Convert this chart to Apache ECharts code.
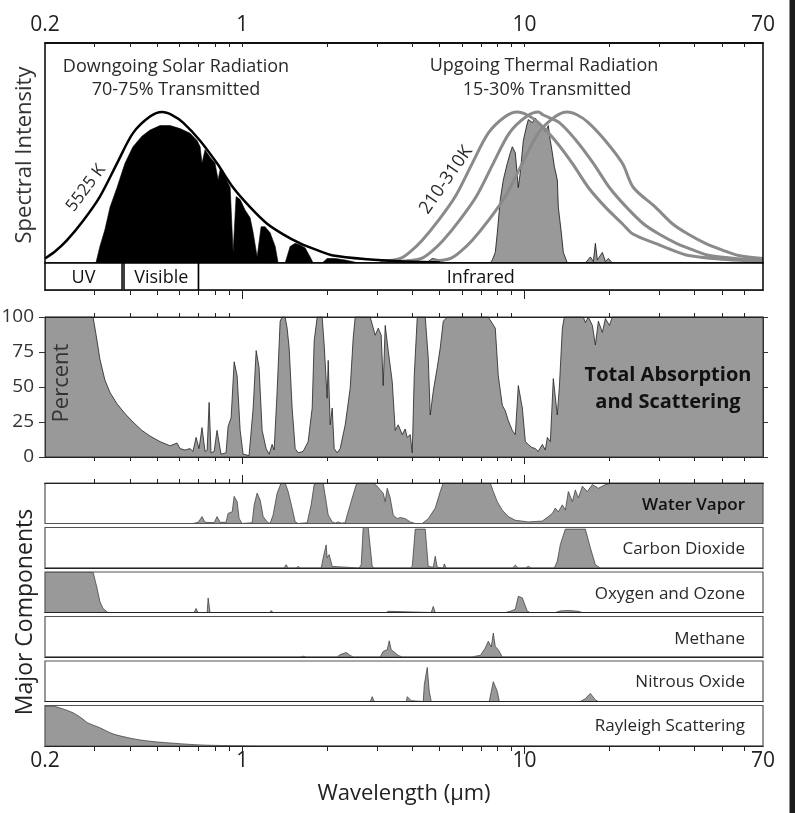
<!DOCTYPE html>
<html><head><meta charset="utf-8">
<script src="https://cdn.jsdelivr.net/npm/echarts@6/dist/echarts.min.js"></script>
<style>html,body{margin:0;padding:0;background:#fff}#c{width:795px;height:813px}</style>
</head><body><div id="c"></div>
<script>
// ---------- tick / label values (wavelength, µm) ----------
const minorTicks = [0.3,0.4,0.5,0.6,0.7,0.8,0.9,2,3,4,5,6,7,8,9,20,30,40,50,60];
const majorTicks = [1,10];
const tickLabels = [0.2,1,10,70];
const xMinWl = 0.2, xMaxWl = 70;

// ---------- spectral bands ----------
const bandFrom = [0.2, 0.381, 0.70];
const bandTo   = [0.375, 0.70, 70];
const bandName = ['UV','Visible','Infrared'];

// ---------- top panel: solar ----------
const sunWl  = [0.200,0.218,0.239,0.273,0.313,0.360,0.410,0.471,0.520,0.564,0.617,0.709,0.814,0.928,1.066,1.225,1.396,1.604,1.843,2.100,2.771,3.628,5.03];
const sunVal = [0.03,0.08,0.15,0.28,0.44,0.66,0.86,0.97,1.0,0.98,0.93,0.81,0.66,0.50,0.37,0.26,0.19,0.13,0.085,0.05,0.025,0.012,0.004];
const solarWl  = [0.303,0.313,0.326,0.340,0.360,0.384,0.410,0.441,0.471,0.511,0.555,0.602,0.653,0.692,0.709,0.720,0.738,0.769,0.801,0.821,0.835,0.869,0.906,0.928,0.951,0.983,1.024,1.066,1.093,1.129,1.166,1.205,1.255,1.308,1.340,1.419,1.478,1.540,1.604,1.671,1.740,1.783,1.919,1.999,2.134,2.316,2.452,2.575];
const solarVal = [0,0.11,0.22,0.37,0.50,0.66,0.77,0.84,0.88,0.91,0.91,0.89,0.86,0.81,0.77,0.66,0.75,0.70,0.66,0.55,0.62,0.57,0.50,0.07,0.44,0.42,0.35,0.30,0.20,0.04,0.24,0.24,0.20,0.11,0,0,0.11,0.13,0.12,0.10,0.04,0,0,0.03,0.03,0.02,0.01,0];

// ---------- top panel: thermal ----------
const thermWl  = [4.486,4.712,5.029,5.196,7.565,7.690,7.880,8.010,8.208,8.412,8.691,8.907,9.054,9.278,9.508,9.664,9.904,10.150,10.317,10.659,10.923,11.194,11.566,11.852,12.146,12.346,12.550,12.756,13.073,13.180,13.507,13.729,14.185,16.43,17.115,17.54,17.83,18.12,18.88,19.35,19.83,20.48];
const thermVal = [0,0.03,0.02,0,0,0.02,0.07,0.20,0.42,0.55,0.66,0.73,0.77,0.73,0.50,0.60,0.81,0.90,0.95,0.93,0.96,0.93,0.90,0.87,0.91,0.81,0.73,0.64,0.55,0.37,0.20,0.07,0,0,0.04,0.01,0.13,0.02,0.07,0.01,0.03,0];
const t310Wl  = [3.082,3.628,3.969,4.342,4.948,5.685,6.531,7.442,8.550,9.431,10.233,11.194,12.861,14.776,16.837,19.345,22.226,24.313,29.10,33.43,38.09,50.29,65.83,70];
const t310Val = [0.01,0.03,0.08,0.15,0.28,0.44,0.66,0.86,0.97,1.0,0.98,0.93,0.81,0.66,0.50,0.37,0.26,0.19,0.13,0.085,0.05,0.025,0.012,0.01];
const t260Wl  = [3.63,4.307,4.712,5.154,5.873,6.748,7.752,8.834,10.150,11.194,11.660,13.288,15.266,17.539,19.987,22.963,26.381,30.062,34.539,39.681,45.219,59.688,70];
const t260Val = [0.01,0.03,0.08,0.15,0.28,0.44,0.66,0.86,0.97,1.0,0.98,0.93,0.81,0.66,0.50,0.37,0.26,0.19,0.13,0.085,0.05,0.025,0.017];
const t210Wl  = [4.635,5.457,5.970,6.531,7.442,8.550,9.824,11.194,12.861,14.185,15.392,16.837,19.345,22.226,24.313,29.10,33.43,38.09,43.77,50.29,57.30,70];
const t210Val = [0.01,0.03,0.08,0.15,0.28,0.44,0.66,0.86,0.97,1.0,0.98,0.93,0.81,0.66,0.50,0.37,0.26,0.19,0.13,0.085,0.05,0.03];

// ---------- total absorption (%) ----------
const absWl = [0.2,0.296,0.303,0.313,0.326,0.340,0.360,0.384,0.410,0.441,
0.471,0.511,0.555,0.587,0.602,0.627,0.653,0.669,0.686,0.703,
0.720,0.738,0.751,0.763,0.775,0.795,0.814,0.841,0.876,0.891,
0.913,0.936,0.959,0.983,1.007,1.057,1.093,1.120,1.147,1.176,
1.215,1.245,1.276,1.297,1.329,1.362,1.385,1.419,1.442,1.466,
1.502,1.540,1.578,1.643,1.712,1.769,1.798,1.843,1.919,1.951,
1.999,2.016,2.049,2.083,2.117,2.169,2.223,2.316,2.412,2.472,
2.513,2.840,2.958,3.032,3.107,3.158,3.210,3.290,3.399,3.483,
3.569,3.688,3.779,3.842,3.937,4.002,4.067,4.169,4.450,4.560,
4.635,4.750,4.908,5.029,5.154,5.325,7.442,7.880,8.075,8.344,
8.550,8.762,9.054,9.278,9.508,9.824,10.07,10.32,10.57,10.92,
11.19,11.57,11.85,12.05,12.35,12.65,13.07,13.29,13.62,13.84,
16.16,16.43,16.84,17.40,17.83,18.27,18.88,19.35,19.99,20.48,70];
const absPct = [100,100,88,70,55,46,38,31,25,19,
15,11,8,10,6,5,6,4,14,6,
21,4,5,39,3,4,19,2,3,22,
28,68,58,19,2,1,35,76,64,19,
6,2,9,5,47,97,100,100,92,78,
35,6,3,4,11,35,83,100,100,80,
42,69,23,35,6,3,6,23,49,85,
100,100,87,92,87,51,94,76,54,19,
23,16,20,14,16,3,58,100,100,71,
30,47,64,78,97,100,100,92,58,37,
33,26,19,16,51,35,11,9,7,6,
4,9,5,14,11,56,30,50,92,100,
100,96,100,94,80,97,89,99,94,100,100];

// ---------- major components (relative 0..1) ----------
const wvWl = [0.2,0.578,0.587,0.597,0.643,0.653,0.669,0.697,0.709,0.720,
0.738,0.795,0.814,0.835,0.876,0.891,0.921,0.936,0.959,0.975,
0.999,1.084,1.102,1.129,1.157,1.186,1.225,1.255,1.286,1.329,
1.373,1.419,1.454,1.502,1.540,1.578,1.698,1.754,1.798,1.843,
1.935,1.983,2.016,2.083,2.134,2.187,2.241,2.316,2.354,2.452,
2.533,2.575,2.911,3.007,3.082,3.158,3.210,3.263,3.344,3.427,
3.541,3.628,3.779,3.937,4.101,4.342,4.560,4.828,5.029,5.154,
7.565,7.752,8.010,8.344,8.762,9.278,10.317,10.923,11.566,12.146,
12.550,12.861,13.180,13.618,13.955,14.301,14.776,15.142,15.517,16.033,
16.702,17.398,18.27,19.35,20.48,70];
const wvVal = [0,0,0.03,0,0,0.02,0,0.03,0.10,0.17,
0.03,0.02,0.17,0.03,0.03,0.25,0.29,0.67,0.54,0.12,
0,0.02,0.46,0.75,0.58,0.17,0.04,0,0.21,0.75,
1,1,0.79,0.38,0.04,0,0.02,0.46,0.96,1,
1,0.54,0.21,0.04,0.01,0.04,0.01,0.02,0.21,0.63,
0.96,1,1,0.92,0.83,0.75,0.54,0.87,0.63,0.21,
0.12,0.15,0.12,0.04,0,0,0.12,0.38,0.79,1,
1,0.79,0.54,0.33,0.17,0.08,0.04,0.05,0.06,0.17,
0.25,0.38,0.29,0.46,0.33,0.79,0.54,0.83,0.63,0.92,
0.79,0.96,0.87,0.96,1,1];
const co2Wl = [0.2,1.407,1.430,1.454,1.552,1.578,1.604,1.904,1.935,1.983,
1.999,2.032,2.083,2.100,2.596,2.639,2.682,2.794,2.887,2.935,
3.937,4.002,4.101,4.450,4.560,4.750,4.828,4.908,5.154,5.196,
5.282,9.054,9.278,9.508,10.07,10.32,10.57,12.756,13.073,13.397,
13.955,16.430,17.115,17.828,18.571,70];
const co2Val = [0,0,0.08,0,0,0.04,0,0,0.25,0.57,
0.25,0.33,0.04,0,0,0.08,1.0,1.0,0.04,0,
0,0.04,0.96,0.96,0.04,0.02,0.29,0.02,0,0.1,
0,0,0.07,0,0,0.04,0,0,0.17,0.58,
0.96,0.96,0.5,0.08,0,0];
const o3Wl = [0.2,0.296,0.3058,0.313,0.321,0.334,0.675,0.686,0.697,0.751,
0.757,0.769,1.255,1.266,1.286,3.236,3.290,3.344,4.673,4.750,
4.828,8.550,8.907,9.278,9.508,9.824,10.233,10.486,12.861,13.397,
14.301,15.517,16.033,70];
const o3Val = [1,1,0.6,0.27,0.1,0,0,0.1,0,0,
0.36,0,0,0.05,0,0,0.03,0,0,0.15,
0,0,0.03,0.08,0.4,0.36,0.03,0,0,0.04,
0.05,0.03,0,0];
const ch4Wl = [0.2,1.604,1.643,1.684,2.169,2.223,2.335,2.412,2.472,3.082,
3.158,3.263,3.317,3.371,3.427,3.569,3.688,6.531,6.693,6.972,
7.262,7.442,7.627,7.752,7.880,8.075,8.344,70];
const ch4Val = [0,0,0.02,0,0,0.06,0.11,0.04,0,0,
0.14,0.18,0.4,0.18,0.14,0.04,0,0,0.02,0.04,
0.22,0.39,0.25,0.59,0.26,0.18,0,0];
const n2oWl = [0.2,2.840,2.887,2.935,3.810,3.842,3.969,4.378,4.414,4.523,
4.598,4.673,7.503,7.627,7.752,8.010,8.142,8.412,8.550,8.762,
15.773,16.43,17.115,17.828,18.27,70];
const n2oVal = [0,0,0.12,0,0,0.12,0.02,0,0.41,0.84,
0.25,0,0,0.25,0.49,0.25,0,0,0.03,0,
0,0.07,0.2,0.04,0,0];
const rayWl  = [0.2,0.2135,0.226,0.2513,0.273,0.2818,0.313,0.348,0.391,0.434,0.499,0.569,0.653,0.751,0.855,0.983,1.157,70];
const rayVal = [0.98,0.98,0.94,0.82,0.66,0.58,0.45,0.30,0.21,0.15,0.10,0.07,0.04,0.02,0.012,0.005,0,0];

const compNames = ['Water Vapor','Carbon Dioxide','Oxygen and Ozone','Methane','Nitrous Oxide','Rayleigh Scattering'];
const compWl  = [wvWl, co2Wl, o3Wl, ch4Wl, n2oWl, rayWl];
const compVal = [wvVal, co2Val, o3Val, ch4Val, n2oVal, rayVal];

// ---------- build ----------
const lg = Math.log10;
const LMIN = lg(xMinWl), LMAX = lg(xMaxWl);
const P = (wl, v) => wl.map((w, i) => [lg(w), v[i]]);
const FONT = 'Open Sans';
const allTicks = minorTicks.concat(majorTicks);

function xa(grid, pos, ticks, len, inside, extra) {
  return Object.assign({
    type: 'value', gridIndex: grid, position: pos, min: LMIN, max: LMAX, z: 10,
    axisLine: {show: true, onZero: false, lineStyle: {color: '#222', width: 1.2}},
    axisTick: ticks ? {show: true, inside: inside, length: len, customValues: ticks.map(lg), lineStyle: {color: '#222', width: 1}} : {show: false},
    axisLabel: {show: false}, splitLine: {show: false}
  }, extra || {});
}
const labelCfg = (margin) => ({show: true, customValues: tickLabels.map(lg), margin: margin,
  fontSize: 21, color: '#222', fontFamily: FONT,
  formatter: v => String(parseFloat(Math.pow(10, v).toPrecision(2)))});

const compTops = [483, 527.5, 572, 616.5, 661, 705.5];
const grids = [
  {left: 45, right: 32, top: 43, height: 220, show: true, borderColor: '#000', borderWidth: 1.5},
  {left: 45, right: 32, top: 263, height: 27},
  {left: 45, right: 32, top: 317, height: 140, show: true, borderColor: '#333', borderWidth: 1}
].concat(compTops.map(t => ({left: 45, right: 32, top: t, height: 40.5, show: true, borderColor: '#555', borderWidth: 1.2})));
grids.forEach(g => { g.z = 5; g.backgroundColor = 'transparent'; g.containLabel = false; g.outerBoundsMode = 'none'; });

const xAxes = [
  xa(0, 'top', allTicks, 4, true, {axisLine: {show: true, onZero: false, lineStyle: {color: '#000', width: 1.5}}, axisLabel: labelCfg(7)}), //0
  xa(1, 'bottom', minorTicks, 5, false), //1
  xa(1, 'bottom', majorTicks, 9, false), //2
  xa(2, 'top', minorTicks, 4, false), //3
  xa(2, 'bottom', minorTicks, 4, false), //4
  xa(2, 'bottom', majorTicks, 7, false), //5
  xa(3, 'top', minorTicks, 4, false), //6
  xa(3, 'top', majorTicks, 8, false), //7
  xa(4, 'bottom', null), //8
  xa(5, 'bottom', null), //9
  xa(6, 'bottom', null), //10
  xa(7, 'bottom', null), //11
  xa(8, 'bottom', minorTicks, 5, false, {axisLabel: labelCfg(5)}), //12
  xa(8, 'bottom', majorTicks, 8, false) //13
];
const compX = [6, 8, 9, 10, 11, 12];

const yHidden = (g, max) => ({type: 'value', gridIndex: g, min: 0, max: max, show: false});
const yAxes = [
  yHidden(0, 1.457), //0
  yHidden(1, 1),     //1
  {type: 'value', gridIndex: 2, position: 'left', min: 0, max: 100, interval: 25, z: 10,
   axisLine: {show: true, onZero: false, lineStyle: {color: '#333', width: 1}},
   axisTick: {show: true, length: 6, lineStyle: {color: '#333'}},
   axisLabel: {fontSize: 19, color: '#333', margin: 11, fontFamily: FONT},
   splitLine: {show: false}}, //2
  {type: 'value', gridIndex: 2, position: 'right', min: 0, max: 100, interval: 25, z: 10,
   axisLine: {show: true, onZero: false, lineStyle: {color: '#333', width: 1}},
   axisTick: {show: true, length: 5, lineStyle: {color: '#333'}},
   axisLabel: {show: false}, splitLine: {show: false}} //3
].concat(compTops.map((t, i) => yHidden(3 + i, 1))); // 4..9
const compY0 = 4;

const lineS = (xi, yi, data, color, width, fill, z, smooth) => {
  const s = {
    type: 'line', xAxisIndex: xi, yAxisIndex: yi, data: data, symbol: 'none', silent: true,
    lineStyle: {color: color, width: width}, z: z || 2
  };
  if (fill) s.areaStyle = {color: fill, opacity: 1};
  if (smooth) s.smooth = smooth;
  return s;
};

const series = [
  lineS(0, 0, P(solarWl, solarVal), '#000', 0.6, '#000', 2),
  lineS(0, 0, P(thermWl, thermVal), '#111', 0.8, '#999', 2),
  lineS(0, 0, P(t310Wl, t310Val), '#8a8a8a', 3, null, 3, 0.3),
  lineS(0, 0, P(t260Wl, t260Val), '#8a8a8a', 3, null, 3, 0.3),
  lineS(0, 0, P(t210Wl, t210Val), '#8a8a8a', 3, null, 3, 0.3),
  lineS(0, 0, P(sunWl, sunVal), '#000', 2.5, null, 4, 0.3),
  {
    type: 'custom', xAxisIndex: 1, yAxisIndex: 1, silent: true, z: 6,
    data: bandFrom.map((f, i) => [lg(f), lg(bandTo[i]), i]),
    renderItem: (params, api) => {
      const a = api.coord([api.value(0), 1]);
      const b = api.coord([api.value(1), 0]);
      return {type: 'group', children: [
        {type: 'rect', shape: {x: a[0], y: a[1], width: b[0] - a[0], height: b[1] - a[1]},
         style: {fill: '#fff', stroke: '#000', lineWidth: 1.5}},
        {type: 'text', style: {text: bandName[api.value(2)], x: (a[0] + b[0]) / 2, y: (a[1] + b[1]) / 2 + 1,
          align: 'center', verticalAlign: 'middle', fontSize: 18, fontFamily: FONT, fill: '#111'}}
      ]};
    }
  },
  lineS(4, 2, P(absWl, absPct), '#222', 0.8, '#999', 2)
].concat(compWl.map((wl, i) => lineS(compX[i], compY0 + i, P(wl, compVal[i]), '#333', 0.7, '#999', 2, i === 5 ? 0.3 : 0)));

const txt = (s, x, y, size, opts) => Object.assign({
  type: 'text', x: x, y: y, z: 20, silent: true,
  style: Object.assign({text: s, fontSize: size, fontFamily: FONT, fill: '#2a2a2a',
    textAlign: 'center', textVerticalAlign: 'middle'}, (opts && opts.style) || {})
}, opts && opts.rotation !== undefined ? {rotation: opts.rotation} : {});

const compLabelY = [505, 549, 594, 639, 682, 726];
const graphics = [
  {type: 'rect', shape: {x: 789.5, y: 0, width: 6, height: 813}, style: {fill: '#1c1c1c'}, silent: true},
  txt('Spectral Intensity', 25, 155, 22, {rotation: Math.PI / 2, style: {fill: '#333'}}),
  txt('Downgoing Solar Radiation', 176, 67, 18),
  txt('70-75% Transmitted', 176, 90, 18),
  txt('Upgoing Thermal Radiation', 544, 66, 18),
  txt('15-30% Transmitted', 547, 90, 18),
  txt('5525 K', 86, 188, 17, {rotation: 0.93}),
  txt('210-310K', 446, 180, 18, {rotation: 0.96}),
  txt('Percent', 62, 383, 22, {rotation: Math.PI / 2, style: {fill: '#333'}}),
  txt('Total Absorption', 668, 375, 20, {style: {fontWeight: 'bold', fill: '#111'}}),
  txt('and Scattering', 668, 402, 20, {style: {fontWeight: 'bold', fill: '#111'}}),
  txt('Major Components', 25, 612, 23, {rotation: Math.PI / 2, style: {fill: '#222'}}),
  txt('Wavelength (\u00b5m)', 404, 794, 22, {style: {fill: '#222'}})
].concat(compNames.map((n, i) => txt(n, 745, compLabelY[i], 17,
  {style: {textAlign: 'right', fill: i === 0 ? '#111' : '#2a2a2a', fontWeight: i === 0 ? 600 : 'normal'}})));

const chart = echarts.init(document.getElementById('c'), null, {renderer: 'canvas'});
chart.setOption({
  animation: false,
  backgroundColor: '#fff',
  textStyle: {fontFamily: FONT},
  grid: grids, xAxis: xAxes, yAxis: yAxes, series: series, graphic: graphics
});
</script></body></html>
